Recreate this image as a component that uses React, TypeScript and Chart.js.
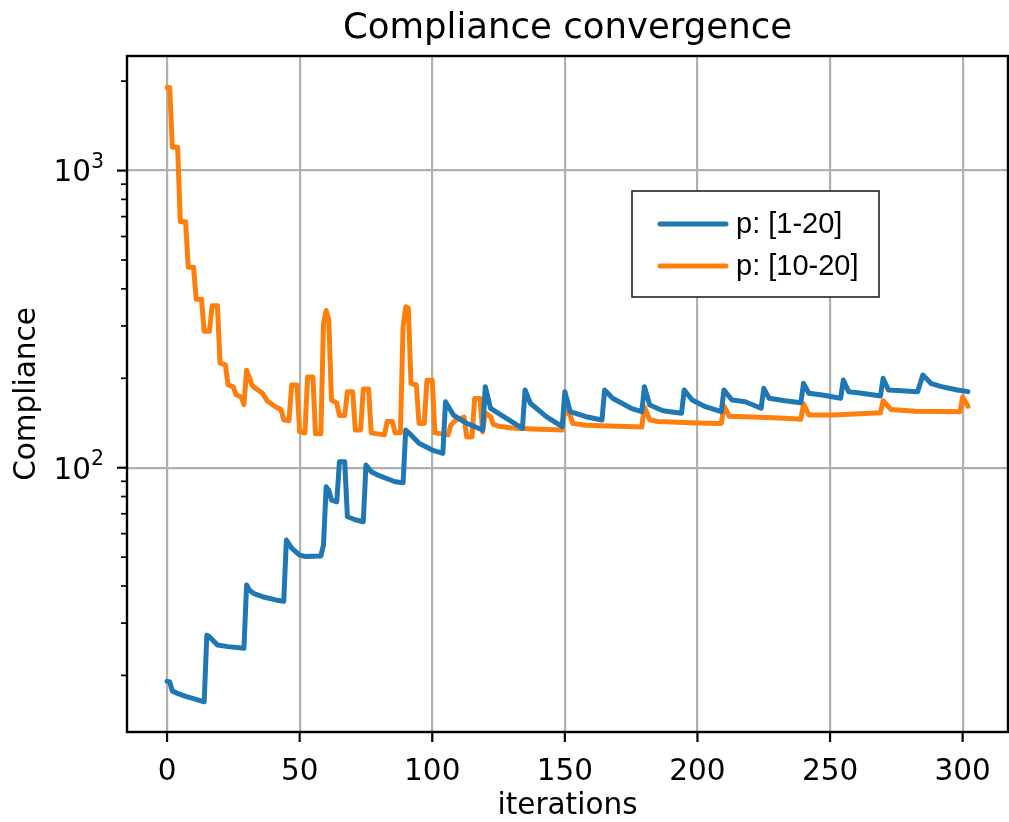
import React, { useEffect, useRef } from 'react';
import { Chart, registerables } from 'chart.js';

Chart.register(...registerables);

const TITLE = 'Compliance convergence';
const X_LABEL = 'iterations';
const Y_LABEL = 'Compliance';
const SERIES_LABELS = ['p: [1-20]', 'p: [10-20]'];
const SERIES_COLORS = ['#1f77b4', '#ff7f0e'];
const X_TICKS = [0, 50, 100, 150, 200, 250, 300];
const Y_MAJOR_TICKS = [100, 1000];
const Y_MINOR_TICKS = [20, 30, 40, 50, 60, 70, 80, 90, 200, 300, 400, 500, 600, 700, 800, 900, 2000];
// tick label = base + superscript exponent
const Y_TICK_BASE: Record<number, string> = { 100: '10', 1000: '10' };
const Y_TICK_EXP: Record<number, string> = { 100: '2', 1000: '3' };

const blueIter = [0, 1, 2, 4, 7, 10, 14, 15, 16, 17, 19, 23, 29, 30, 31, 33, 36, 41, 44, 45, 47, 50, 52, 58, 59, 60, 61, 62, 64, 65, 67, 68, 71, 74, 75, 77, 80, 86, 89, 90, 92, 95, 100, 104, 105, 108, 113, 119, 120, 122, 128, 134, 135, 137, 143, 149, 150, 152, 158, 164, 165, 168, 175, 179, 180, 182, 187, 194, 195, 198, 203, 209, 210, 213, 218, 224, 225, 227, 233, 239, 240, 242, 247, 254, 255, 257, 262, 269, 270, 272, 283, 285, 288, 292, 298, 302];
const blueVal = [19.1, 19.0, 17.7, 17.4, 17.0, 16.7, 16.3, 27.3, 27.0, 26.4, 25.3, 25.0, 24.7, 40.3, 38.8, 37.6, 36.8, 35.9, 35.5, 57.1, 53.6, 50.8, 50.3, 50.5, 55.0, 86.3, 84.0, 77.8, 76.8, 104.8, 104.8, 68.4, 66.8, 65.8, 102.1, 97.0, 94.0, 89.7, 89.0, 133.9, 128.9, 120.8, 114.7, 111.8, 166.7, 150.4, 141.1, 133.9, 187.4, 158.5, 146.6, 135.7, 182.6, 164.8, 148.5, 137.4, 180.3, 154.4, 148.5, 144.7, 182.6, 171.3, 158.5, 154.4, 187.4, 162.5, 155.5, 152.6, 182.6, 169.0, 160.5, 154.4, 182.6, 169.0, 166.7, 158.5, 185.0, 171.3, 168.0, 165.5, 192.3, 178.1, 175.8, 171.3, 197.2, 180.3, 178.1, 174.3, 199.9, 182.6, 180.3, 205.0, 192.3, 187.4, 182.6, 180.3];

const orangeIter = [0, 1, 2, 4, 5, 7, 8, 10, 11, 13, 14, 16, 17, 19, 20, 22, 23, 25, 26, 28, 29, 30, 32, 33, 36, 38, 41, 43, 44, 46, 47, 49, 50, 52, 53, 55, 56, 58, 59, 60, 61, 62, 64, 65, 67, 68, 70, 71, 73, 74, 76, 77, 82, 83, 85, 86, 88, 89, 90, 91, 92, 94, 95, 97, 98, 100, 101, 106, 107, 109, 112, 113, 115, 116, 118, 119, 120, 122, 123, 125, 130, 138, 149, 150, 152, 153, 158, 179, 180, 182, 185, 200, 209, 210, 212, 226, 233, 239, 240, 242, 251, 269, 270, 273, 282, 299, 300, 302];
const orangeVal = [1903, 1903, 1199, 1199, 673, 673, 473, 473, 369, 369, 288, 288, 351, 351, 225, 222, 190, 187, 176, 173, 163, 213, 190, 186, 178, 167, 160, 157, 145, 144, 190, 190, 132, 131, 202, 202, 130, 130, 306, 338, 314, 169, 165, 150, 150, 180, 180, 134, 134, 184, 184, 131, 129, 143, 143, 131, 131, 298, 348, 344, 192, 190, 141, 141, 197, 197, 131, 129, 139, 145, 148, 127, 127, 171, 171, 132, 153, 148.5, 140, 138, 136, 135, 134, 157, 150, 141, 139, 137, 160, 145, 143, 141.5, 141, 161, 149, 147.6, 146.6, 145.6, 164, 150.4, 150.4, 153, 168, 157, 155, 154.4, 173, 161];

const FONT = '"DejaVu Sans", sans-serif';

const decorPlugin = {
  id: 'decor',
  afterDraw(chart: any) {
    const { ctx, chartArea: a, scales } = chart;
    const xs = scales.x;
    const ys = scales.y;
    ctx.save();
    ctx.strokeStyle = '#000';
    ctx.lineCap = 'butt';
    const seg = (x1: number, y1: number, x2: number, y2: number) => {
      ctx.beginPath();
      ctx.moveTo(x1, y1);
      ctx.lineTo(x2, y2);
      ctx.stroke();
    };
    // tick marks
    ctx.lineWidth = 2.2;
    X_TICKS.forEach((t) => {
      const px = xs.getPixelForValue(t);
      seg(px, a.bottom, px, a.bottom + 10);
    });
    Y_MAJOR_TICKS.forEach((t) => {
      const py = ys.getPixelForValue(t);
      seg(a.left, py, a.left - 10, py);
    });
    ctx.lineWidth = 1.7;
    Y_MINOR_TICKS.forEach((t) => {
      const py = ys.getPixelForValue(t);
      if (py >= a.top && py <= a.bottom) seg(a.left, py, a.left - 6, py);
    });
    // spines
    ctx.lineWidth = 2.4;
    ctx.strokeRect(a.left, a.top, a.right - a.left, a.bottom - a.top);

    // y tick labels (10^n with superscript exponent)
    ctx.fillStyle = '#000';
    ctx.textBaseline = 'alphabetic';
    ctx.textAlign = 'right';
    Y_MAJOR_TICKS.forEach((t) => {
      const py = ys.getPixelForValue(t);
      const right = a.left - 23;
      ctx.font = `20.5px ${FONT}`;
      const ew = ctx.measureText(Y_TICK_EXP[t]).width;
      ctx.fillText(Y_TICK_EXP[t], right, py - 2.5);
      ctx.font = `29.5px ${FONT}`;
      ctx.fillText(Y_TICK_BASE[t], right - ew, py + 10.8);
    });

    // texts
    ctx.textAlign = 'center';
    ctx.font = `35.5px ${FONT}`;
    ctx.fillText(TITLE, (a.left + a.right) / 2, 38);
    ctx.font = `29.5px ${FONT}`;
    ctx.fillText(X_LABEL, (a.left + a.right) / 2, 814);
    ctx.save();
    ctx.translate(35, (a.top + a.bottom) / 2);
    ctx.rotate(-Math.PI / 2);
    ctx.fillText(Y_LABEL, 0, 0);
    ctx.restore();

    // legend
    const lx = 632, ly = 191, lw = 247, lh = 106;
    ctx.fillStyle = '#fff';
    ctx.fillRect(lx, ly, lw, lh);
    ctx.strokeStyle = '#222';
    ctx.lineWidth = 1.6;
    ctx.strokeRect(lx, ly, lw, lh);
    const rows = [224, 266];
    chart.data.datasets.forEach((ds: any, i: number) => {
      ctx.strokeStyle = ds.borderColor;
      ctx.lineWidth = 5;
      ctx.lineCap = 'round';
      seg(660, rows[i], 726, rows[i]);
      ctx.fillStyle = '#000';
      ctx.textAlign = 'left';
      ctx.textBaseline = 'middle';
      ctx.font = '29px "Liberation Sans", Arial, sans-serif';
      ctx.fillText(ds.label, 736, rows[i] + 1);
    });
    ctx.restore();
  },
};

export default function App() {
  const ref = useRef<HTMLCanvasElement>(null);
  useEffect(() => {
    if (!ref.current) return;
    const chart = new Chart(ref.current, {
      type: 'line',
      data: {
        datasets: [
          {
            label: SERIES_LABELS[0],
            data: blueIter.map((x, i) => ({ x, y: blueVal[i] })),
            borderColor: SERIES_COLORS[0],
            backgroundColor: SERIES_COLORS[0],
            borderWidth: 5,
            pointRadius: 0,
            tension: 0,
            borderJoinStyle: 'round',
            borderCapStyle: 'round',
          },
          {
            label: SERIES_LABELS[1],
            data: orangeIter.map((x, i) => ({ x, y: orangeVal[i] })),
            borderColor: SERIES_COLORS[1],
            backgroundColor: SERIES_COLORS[1],
            borderWidth: 5,
            pointRadius: 0,
            tension: 0,
            borderJoinStyle: 'round',
            borderCapStyle: 'round',
          },
        ],
      },
      options: {
        animation: false,
        responsive: false,
        events: [],
        layout: { padding: { top: 56, right: 1, left: 0, bottom: 0 } },
        plugins: {
          legend: { display: false },
          title: { display: false },
          tooltip: { enabled: false },
        },
        scales: {
          x: {
            type: 'linear',
            min: -15.1,
            max: 317.1,
            afterBuildTicks: (s: any) => {
              s.ticks = X_TICKS.map((v) => ({ value: v }));
            },
            afterFit: (s: any) => {
              s.height = 90;
              s.paddingLeft = 0;
              s.paddingRight = 0;
            },
            grid: { color: '#b0b0b0', lineWidth: 2.2, drawTicks: false },
            border: { display: false },
            ticks: {
              color: '#000',
              padding: 23,
              maxRotation: 0,
              autoSkip: false,
              font: { family: FONT, size: 29.5 },
              callback: (v: any) => String(v),
            },
          },
          y: {
            type: 'logarithmic',
            min: 12.9,
            max: 2430,
            afterBuildTicks: (s: any) => {
              s.ticks = [...Y_MINOR_TICKS, ...Y_MAJOR_TICKS]
                .sort((p, q) => p - q)
                .map((v) => ({ value: v }));
            },
            afterFit: (s: any) => {
              s.width = 127;
              s.paddingTop = 0;
              s.paddingBottom = 0;
            },
            grid: {
              color: (c: any) => (Y_MAJOR_TICKS.includes(c.tick?.value) ? '#b0b0b0' : 'rgba(0,0,0,0)'),
              lineWidth: 2.2,
              drawTicks: false,
            },
            border: { display: false },
            ticks: {
              color: '#000',
              padding: 22,
              autoSkip: false,
              font: { family: FONT, size: 29.5 },
              callback: () => '',
            },
          },
        },
      },
      plugins: [decorPlugin],
    });
    return () => chart.destroy();
  }, []);
  return (
    <div style={{ position: 'absolute', left: 0, top: 0, width: 1009, height: 822, background: '#fff' }}>
      <canvas ref={ref} width={1009} height={822} style={{ display: 'block' }} />
    </div>
  );
}
